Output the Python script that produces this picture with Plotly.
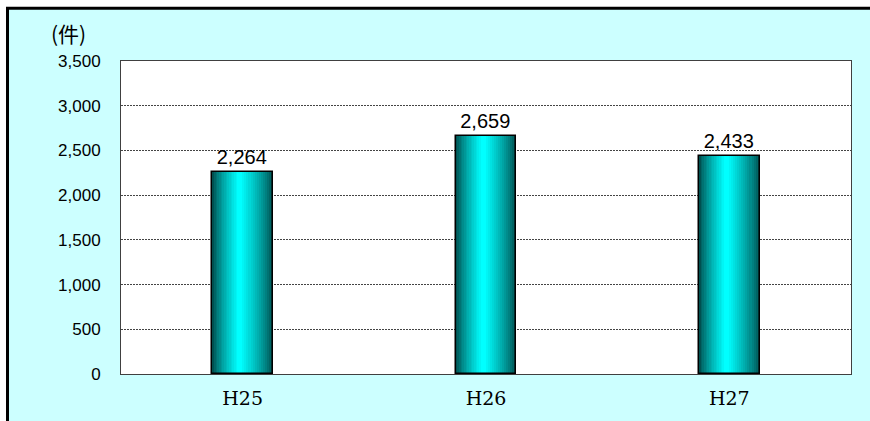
import plotly.graph_objects as go

categories = ["H25", "H26", "H27"]
values = [2264, 2659, 2433]
y_ticks = [0, 500, 1000, 1500, 2000, 2500, 3000, 3500]
unit_label = "(件)"

W, H = 870, 421
L, R, T, B = 121, 19, 61, 42
pw, ph = W - L - R, H - T - B

def px(x):
    return (x - L) / pw

def py(y):
    return (H - B - y) / ph

fig = go.Figure()

bar_w = 0.25
n_layers = 16
dark = (0, 80, 80)
bright = (0, 255, 255)
for i in range(n_layers):
    f = i / (n_layers - 1)
    w = bar_w * (1 - f * 0.92)
    t = f ** 0.8
    c = tuple(int(dark[k] + (bright[k] - dark[k]) * t) for k in range(3))
    off = -bar_w / 2 + (bar_w - w) * 0.45
    fig.add_trace(go.Bar(
        x=categories, y=values, width=w, offset=off,
        marker=dict(color="rgb(%d,%d,%d)" % c, line=dict(width=0)),
        hoverinfo="skip", showlegend=False,
    ))

# outline + labels on top
fig.add_trace(go.Bar(
    x=categories, y=values, width=bar_w, offset=-bar_w / 2,
    marker=dict(color="rgba(0,0,0,0)", line=dict(color="black", width=1.5)),
    text=values, texttemplate="%{y:,}", textposition="outside",
    textfont=dict(family="Liberation Sans", size=20, color="black"),
    cliponaxis=False, showlegend=False,
))

shapes = [
    dict(type="rect", xref="paper", yref="paper", layer="below",
         x0=px(6), x1=px(875), y0=py(6), y1=py(430),
         fillcolor="black", line=dict(width=0)),
    dict(type="rect", xref="paper", yref="paper", layer="below",
         x0=px(9), x1=px(875), y0=py(9), y1=py(430),
         fillcolor="#CCFFFF", line=dict(width=0)),
    dict(type="rect", xref="paper", yref="paper", layer="below",
         x0=0, x1=1, y0=0, y1=1,
         fillcolor="white", line=dict(width=0)),
]

fig.update_layout(
    width=W, height=H,
    margin=dict(l=L, r=R, t=T, b=B, pad=0),
    paper_bgcolor="white", plot_bgcolor="white",
    barmode="overlay", bargap=0,
    shapes=shapes,
    annotations=[dict(text=unit_label, xref="paper", yref="paper",
                      x=px(68), y=py(33), xanchor="center", yanchor="middle",
                      showarrow=False,
                      font=dict(family="Noto Sans CJK JP", size=21, color="black"))],
    separators=".,",
)
fig.update_yaxes(range=[0, 3500], tickvals=y_ticks, tickformat=",",
                 showgrid=True, gridcolor="#444444", griddash="2px,1px", gridwidth=1,
                 showline=True, linecolor="#404040", linewidth=1, mirror=True,
                 ticks="", ticklabelstandoff=16, zeroline=False,
                 tickfont=dict(family="Liberation Sans", size=17, color="black"))
fig.update_xaxes(showline=True, linecolor="#404040", linewidth=1, mirror=True,
                 ticks="", ticklabelstandoff=7, showgrid=False,
                 tickfont=dict(family="DejaVu Serif", size=19, color="black"))

fig.write_html("out.html", config={"displayModeBar": False},
               post_script="document.body.style.margin='0';")
